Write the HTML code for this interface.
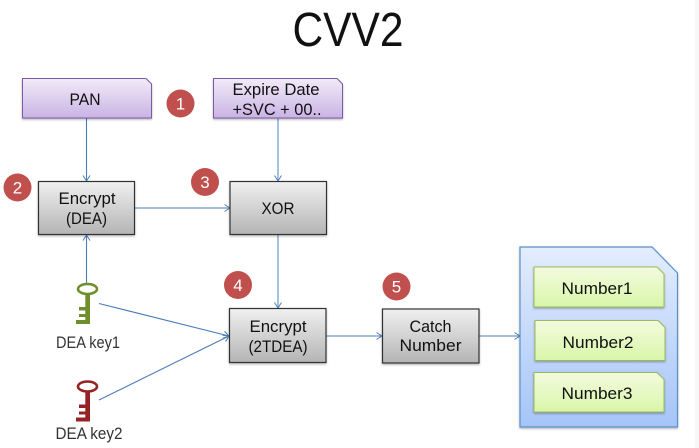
<!DOCTYPE html>
<html><head><meta charset="utf-8"><style>
html,body{margin:0;padding:0;background:#fff;width:699px;height:448px;overflow:hidden}
svg{display:block}
text{font-family:"Liberation Sans",sans-serif;text-anchor:middle;fill:#111}
</style></head><body>
<svg width="699" height="448" viewBox="0 0 699 448" xmlns="http://www.w3.org/2000/svg">
<defs>
<linearGradient id="pur" x1="0" y1="0" x2="0" y2="1"><stop offset="0" stop-color="#f1ebf8"/><stop offset="1" stop-color="#c9b3e4"/></linearGradient>
<linearGradient id="gry" x1="0" y1="0" x2="0" y2="1"><stop offset="0" stop-color="#f0f0f0"/><stop offset="1" stop-color="#b4b4b4"/></linearGradient>
<linearGradient id="blu" x1="0" y1="0" x2="0" y2="1"><stop offset="0" stop-color="#e3edfd"/><stop offset="1" stop-color="#a5c4f7"/></linearGradient>
<linearGradient id="grn" x1="0" y1="0" x2="0" y2="1"><stop offset="0" stop-color="#f3fbdf"/><stop offset="1" stop-color="#d8f6a8"/></linearGradient>
<filter id="sh" x="-10%" y="-10%" width="120%" height="125%"><feDropShadow dx="0" dy="1.2" stdDeviation="1" flood-color="#000" flood-opacity=".3"/></filter>
<marker id="a" markerWidth="10" markerHeight="10" refX="7" refY="4" orient="auto" markerUnits="userSpaceOnUse"><path d="M1.5 0.5L7 4L1.5 7.5" fill="none" stroke="#4a7ebb" stroke-width="1"/></marker>
</defs>
<rect x="695" y="0" width="4" height="448" fill="#f7f7f7"/>
<text x="348" y="46" font-size="48" textLength="111" lengthAdjust="spacingAndGlyphs">CVV2</text>

<g fill="none" stroke="#4a7ebb" stroke-width="1.1">
<path d="M86.5 118V181" marker-end="url(#a)"/>
<path d="M278 118V181" marker-end="url(#a)" stroke="#7fa5d3" stroke-width="1.4"/>
<path d="M135 208H230" marker-end="url(#a)"/>
<path d="M278 235V308" marker-end="url(#a)" stroke="#7fa5d3" stroke-width="1.4"/>
<path d="M86.5 283V235" marker-end="url(#a)"/>
<path d="M99 303.5L229 336" marker-end="url(#a)"/>
<path d="M99 400L229 336" marker-end="url(#a)"/>
<path d="M326 336H382" marker-end="url(#a)"/>
<path d="M479 336H520" marker-end="url(#a)"/>
</g>

<g stroke="#7a5ba6" stroke-width="1" fill="url(#pur)" filter="url(#sh)">
<path d="M22.5 78.5H146L151.5 84V118H22.5Z"/>
<path d="M213.5 78.5H337L342.5 84V118H213.5Z"/>
</g>
<g stroke="#333" stroke-width="1.2" fill="url(#gry)" filter="url(#sh)">
<rect x="38.5" y="181.5" width="96" height="53"/>
<rect x="230" y="181.5" width="96.5" height="53"/>
<rect x="229.5" y="308.5" width="96.5" height="54"/>
<rect x="382.5" y="309" width="96.5" height="54"/>
</g>
<path d="M520 247H652L677.5 273V427H520Z" fill="url(#blu)" stroke="#5b8fc9" stroke-width="1.2" filter="url(#sh)"/>
<g stroke="#9bbb59" stroke-width="1" fill="url(#grn)" filter="url(#sh)">
<path d="M534 267H657L664 274V307H534Z"/>
<path d="M535 320.500H658L665 327.500V360.500H535Z"/>
<path d="M534 372.500H657L664 379.500V412H534Z"/>
</g>

<g fill="#c0504d">
<circle cx="180.500" cy="103.500" r="14"/><circle cx="17.500" cy="187.500" r="14"/><circle cx="205" cy="182" r="14"/><circle cx="238" cy="285" r="14"/><circle cx="396.500" cy="286.500" r="14"/>
</g>
<g font-size="17">
<text x="180.500" y="109.500" style="fill:#fff">1</text>
<text x="17.500" y="193.500" style="fill:#fff">2</text>
<text x="205" y="188" style="fill:#fff">3</text>
<text x="238" y="291" style="fill:#fff">4</text>
<text x="396.500" y="292.500" style="fill:#fff">5</text>
</g>

<g font-size="17">
<text x="85" y="105" textLength="31" lengthAdjust="spacingAndGlyphs">PAN</text>
<text x="276" y="95" textLength="87" lengthAdjust="spacingAndGlyphs">Expire Date</text>
<text x="277" y="115" textLength="89" lengthAdjust="spacingAndGlyphs">+SVC + 00..</text>
<text x="87" y="204" textLength="57" lengthAdjust="spacingAndGlyphs">Encrypt</text>
<text x="86.500" y="224" textLength="41" lengthAdjust="spacingAndGlyphs">(DEA)</text>
<text x="278" y="214" textLength="33" lengthAdjust="spacingAndGlyphs">XOR</text>
<text x="278" y="332" textLength="57" lengthAdjust="spacingAndGlyphs">Encrypt</text>
<text x="278" y="352" textLength="59" lengthAdjust="spacingAndGlyphs">(2TDEA)</text>
<text x="430.500" y="332" textLength="42" lengthAdjust="spacingAndGlyphs">Catch</text>
<text x="430.500" y="351" textLength="62" lengthAdjust="spacingAndGlyphs">Number</text>
<text x="597" y="294" textLength="71" lengthAdjust="spacingAndGlyphs">Number1</text>
<text x="598" y="348" textLength="71" lengthAdjust="spacingAndGlyphs">Number2</text>
<text x="597" y="399" textLength="71" lengthAdjust="spacingAndGlyphs">Number3</text>
<text x="88" y="348" textLength="64" lengthAdjust="spacingAndGlyphs" style="fill:#333">DEA key1</text>
<text x="89" y="439" textLength="67" lengthAdjust="spacingAndGlyphs" style="fill:#333">DEA key2</text>
</g>

<g>
<ellipse cx="87.500" cy="289" rx="9.500" ry="5" fill="none" stroke="#6f8f2d" stroke-width="2.600"/>
<path d="M85.300 294H90V324H76V320H85.300V317H79V314H85.300V310.500H79V307H85.300Z" fill="#6f8f2d"/>
</g>
<g>
<ellipse cx="87.500" cy="386.500" rx="9.500" ry="5" fill="none" stroke="#962323" stroke-width="2.600"/>
<path d="M85.300 391.500H90V421.500H76V417.500H85.300V414.500H79V411.500H85.300V408H79V404.500H85.300Z" fill="#962323"/>
</g>
</svg>
</body></html>
